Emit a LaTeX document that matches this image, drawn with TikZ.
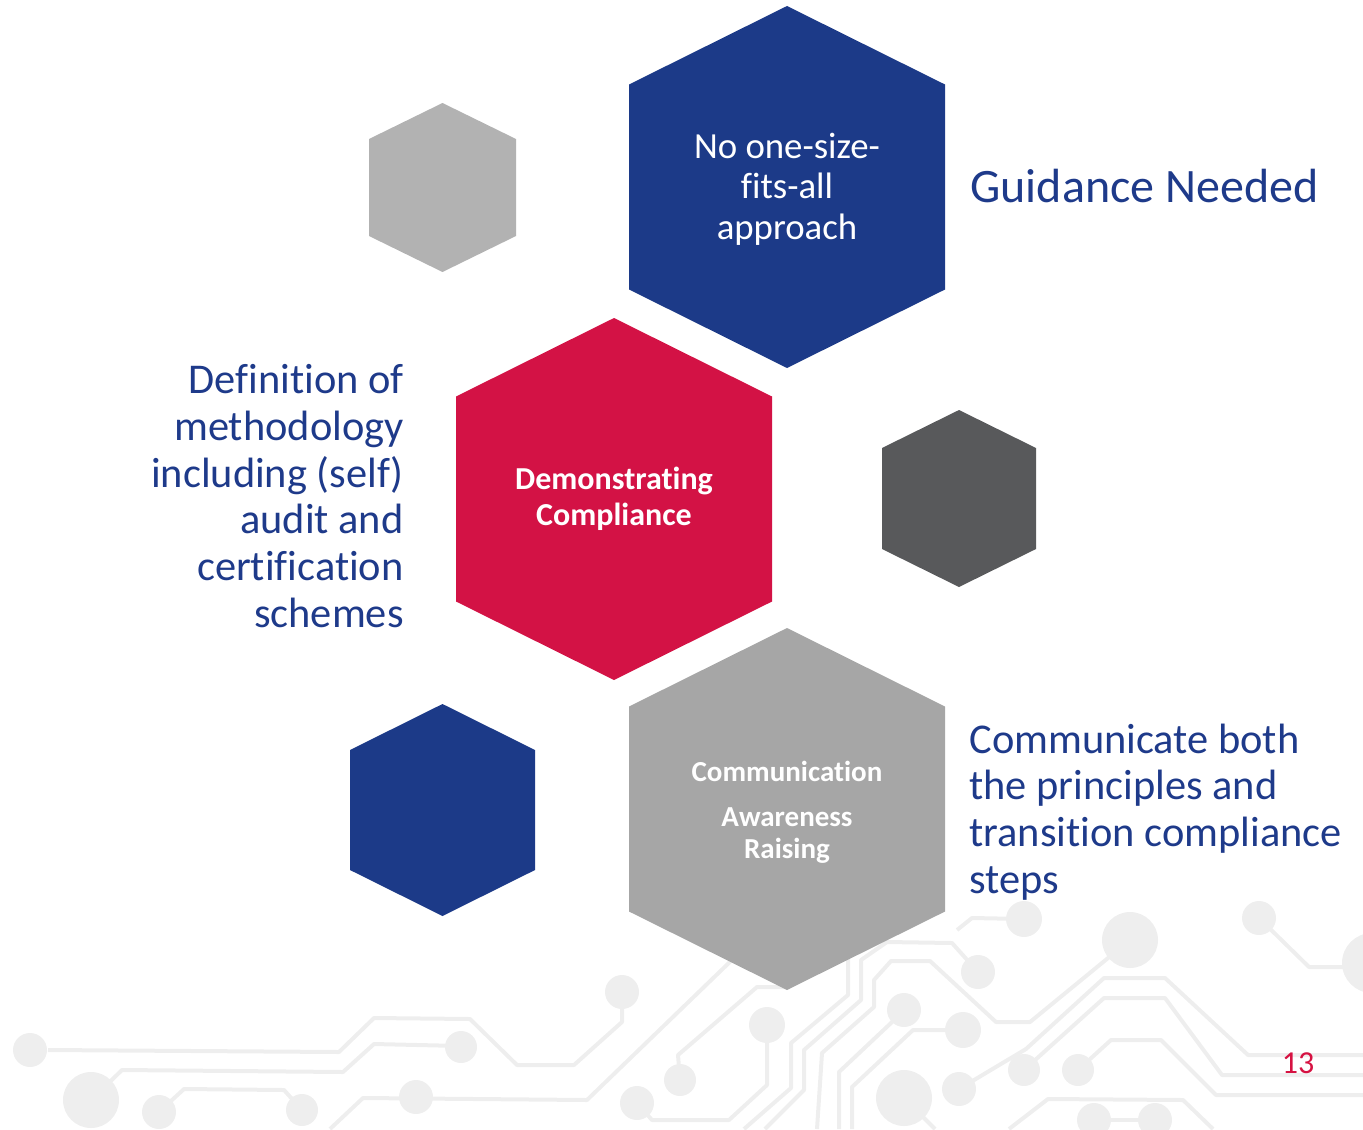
\documentclass[tikz,border=0pt]{standalone}
\usepackage{fontspec}
\setmainfont[Ligatures={NoCommon,NoRare,NoContextual}]{Carlito}
\usepackage{tikz}
\definecolor{hexblue}{RGB}{28,58,136}
\definecolor{hexred}{RGB}{211,18,69}
\definecolor{hexgrey}{RGB}{166,166,166}
\definecolor{hexlight}{RGB}{178,178,178}
\definecolor{hexdark}{RGB}{88,89,91}
\definecolor{textblue}{RGB}{30,58,138}
\definecolor{circuit}{RGB}{238,238,238}
\definecolor{pagered}{RGB}{214,18,66}

% hexagon: centre x, centre y, half width, half height, half side, colour
\newcommand{\hexcell}[6]{%
  \fill[#6] (#1,#2-#4) -- (#1+#3,#2-#5) -- (#1+#3,#2+#5) -- (#1,#2+#4)
    -- (#1-#3,#2+#5) -- (#1-#3,#2-#5) -- cycle;}

\begin{document}
\begin{tikzpicture}[
  x=0.5pt, y=-0.5pt,
  trace/.style={draw=circuit, line width=2pt, line join=round},
  pad/.style={fill=circuit},
  hexlabel/.style={text=white, align=center, inner sep=0pt},
  sidelabel/.style={text=textblue, inner sep=0pt,
                    font=\fontsize{21.2}{23.4}\selectfont}
]
\useasboundingbox (0,0) rectangle (1363,1129);

% circuit board traces
\draw[trace] (48,1050) -- (339,1052) -- (374,1018) -- (470,1019) -- (517,1065)
  -- (574,1065) -- (622,1022) -- (622,1008);
\draw[trace] (91,1100) -- (122,1070) -- (343,1072) -- (374,1044) -- (461,1046);
\draw[trace] (159,1112) -- (184,1089) -- (284,1090) -- (302,1110);
\draw[trace] (330,1129) -- (363,1098) -- (587,1100) -- (735,957);
\draw[trace] (637,1103) -- (652,1120) -- (729,1120) -- (767,1085) -- (767,1025);
\draw[trace] (680,1080) -- (678,1055) -- (757,987) -- (790,987);
\draw[trace] (744,1129) -- (791,1088) -- (791,1043) -- (848,995) -- (848,958);
\draw[trace] (765,1129) -- (804,1090) -- (804,1050) -- (861,1000) -- (861,960)
  -- (887,942) -- (952,943) -- (978,972);
\draw[trace] (817,1129) -- (822,1053) -- (874,1007) -- (874,980) -- (891,961)
  -- (930,961) -- (996,1022) -- (1030,1022) -- (1130,940);
\draw[trace] (839,1129) -- (839,1072) -- (891,1023) -- (904,1010);
\draw[trace] (852,1129) -- (852,1087) -- (913,1030) -- (963,1030);
\draw[trace] (957,930) -- (972,918) -- (1024,919);
\draw[trace] (959,1089) -- (1026,1049) -- (1104,978) -- (1165,978) -- (1248,1055)
  -- (1363,1055);
\draw[trace] (1024,1070) -- (1104,998) -- (1165,998) -- (1222,1075) -- (1363,1075);
\draw[trace] (1078,1070) -- (1111,1040) -- (1161,1040) -- (1216,1095) -- (1363,1095);
\draw[trace] (1259,918) -- (1309,967) -- (1363,967);
\draw[trace] (1009,1129) -- (1048,1099) -- (1183,1100) -- (1213,1129);
\draw[trace] (1094,1120) -- (1155,1120);
\draw[trace] (904,1098) -- (935,1129);

% solder pads
\foreach \px/\py/\r in {30/1050/17, 91/1100/28, 159/1112/17, 302/1110/16,
    416/1097/17, 461/1047/16, 622/992/17, 680/1080/16, 637/1103/17,
    767/1025/18, 904/1010/17, 963/1030/18, 978/972/17, 1024/919/18,
    1130/940/28, 1259/918/17, 904/1098/28, 959/1089/17, 1024/1070/16,
    1078/1070/16, 1094/1120/17, 1155/1120/17, 1372/963/30}
  \fill[pad] (\px,\py) circle[radius=\r];

% hexagons
\hexcell{787}{187}{158}{181}{102.5}{hexblue}
\hexcell{614}{499}{158}{181}{102.5}{hexred}
\hexcell{787}{809}{158}{181}{102.5}{hexgrey}
\hexcell{442.5}{187.5}{73.5}{84.5}{48.5}{hexlight}
\hexcell{959}{498.5}{77}{88.5}{50.5}{hexdark}
\hexcell{442.5}{810}{92.5}{106}{60}{hexblue}

% labels inside the hexagons
\node[hexlabel, font=\fontsize{18.4}{20.3}\selectfont] (oneSize) at (787,189)
  {No one-size-\\fits-all\\approach};
\node[hexlabel, font=\fontsize{16}{17.8}\selectfont\bfseries] (demonstrating)
  at (614,499) {Demonstrating\\Compliance};
\node[hexlabel, font=\fontsize{14.5}{16}\selectfont\bfseries] (communication)
  at (787,812) {Communication\\[6.5pt]Awareness\\Raising};

% side texts
\node[text=textblue, inner sep=0pt, anchor=base west,
      font=\fontsize{24}{29}\selectfont] (guidance) at (970,202) {Guidance Needed};
\node[sidelabel, anchor=east, align=right] (methodology) at (404,496)
  {Definition of\\methodology\\including (self)\\audit and\\certification\\schemes};
\node[sidelabel, anchor=west, align=left] (communicate) at (969,812)
  {Communicate both\\the principles and\\transition compliance\\steps};

\node[text=pagered, inner sep=0pt, font=\fontsize{16}{19}\selectfont] (pageNum)
  at (1298,1063) {13};
\end{tikzpicture}
\end{document}
